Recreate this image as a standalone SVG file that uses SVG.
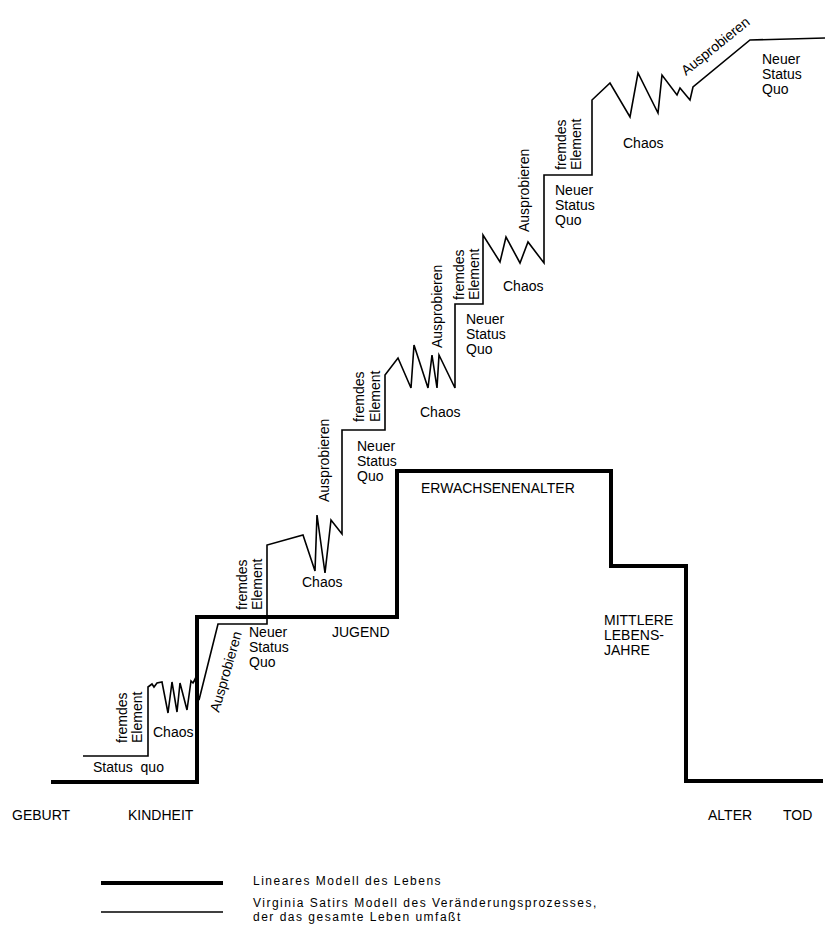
<svg xmlns="http://www.w3.org/2000/svg" width="825" height="929" viewBox="0 0 825 929">
<style>
text{font-family:"Liberation Sans",Arial,sans-serif;font-size:14px;fill:#000}
.thick{fill:none;stroke:#000;stroke-width:4;stroke-linejoin:miter}
.thin{fill:none;stroke:#000;stroke-width:1.6;stroke-linejoin:miter}
.leg{font-size:12px;letter-spacing:1.5px}
</style>
<rect width="825" height="929" fill="#fff"/>
<g id="connectors">
<path id="linear-model" class="thick" d="M51,782 H197 V617 H397 V471 H611 V566 H686 V781 H823"/>
<path id="satir-model" class="thin" d="M83,756 H148 V687 L152,684 L154,687 L157,683 L162,682 L168,713 L172,682 L177,712 L180,683 L187,710 L191,681 L193,683 L195,679 L199,700 L218,624 H267 V545 L303,535 L315,571 L317,515 L325,573 L331,520 L342,534 V430 H385 V375 L398,358 L411,388 L414,345 L428,388 L432,355 L437,388 L439,355 L455,388 V304 H483 V235 L500,262 L506,237 L520,263 L528,242 L544,263 V175 H592 V100 L610,83 L630,117 L638,73 L658,113 L662,75 L677,95 L680,88 L690,100 L693,87 L750,40 L825,38"/>
</g>
<g id="stage1">
<text x="93" y="772" word-spacing="4">Status quo</text>
<text transform="translate(127,743) rotate(-90)">fremdes</text>
<text transform="translate(142,743) rotate(-90)">Element</text>
<text x="153" y="737">Chaos</text>
<text transform="translate(219,713) rotate(-74)">Ausprobieren</text>
</g>
<g id="stage2">
<text x="249" y="637">Neuer</text>
<text x="249" y="652">Status</text>
<text x="249" y="667">Quo</text>
<text transform="translate(247,610) rotate(-90)">fremdes</text>
<text transform="translate(262,610) rotate(-90)">Element</text>
<text x="302" y="587">Chaos</text>
<text transform="translate(329,502) rotate(-90)">Ausprobieren</text>
</g>
<g id="stage3">
<text x="357" y="451">Neuer</text>
<text x="357" y="466">Status</text>
<text x="357" y="481">Quo</text>
<text transform="translate(364,422) rotate(-90)">fremdes</text>
<text transform="translate(380,422) rotate(-90)">Element</text>
<text x="420" y="417">Chaos</text>
<text transform="translate(442,348) rotate(-90)">Ausprobieren</text>
</g>
<g id="stage4">
<text x="466" y="324">Neuer</text>
<text x="466" y="339">Status</text>
<text x="466" y="354">Quo</text>
<text transform="translate(464,300) rotate(-90)">fremdes</text>
<text transform="translate(479,300) rotate(-90)">Element</text>
<text x="503" y="291">Chaos</text>
<text transform="translate(529,232) rotate(-90)">Ausprobieren</text>
</g>
<g id="stage5">
<text x="555" y="195">Neuer</text>
<text x="555" y="210">Status</text>
<text x="555" y="225">Quo</text>
<text transform="translate(566,170) rotate(-90)">fremdes</text>
<text transform="translate(581,170) rotate(-90)">Element</text>
<text x="623" y="148">Chaos</text>
<text transform="translate(686,76) rotate(-39)">Ausprobieren</text>
</g>
<g id="stage6">
<text x="762" y="64">Neuer</text>
<text x="762" y="79">Status</text>
<text x="762" y="94">Quo</text>
</g>
<g id="life-phases">
<text x="332" y="637">JUGEND</text>
<text x="421" y="493">ERWACHSENENALTER</text>
<text x="604" y="625">MITTLERE</text>
<text x="604" y="640">LEBENS-</text>
<text x="604" y="655">JAHRE</text>
<text x="12" y="820">GEBURT</text>
<text x="128" y="820">KINDHEIT</text>
<text x="708" y="820">ALTER</text>
<text x="783" y="820">TOD</text>
</g>
<g id="legend">
<path class="thick" d="M101,883 H223"/>
<path class="thin" d="M101,912 H223"/>
<text class="leg" x="253" y="885">Lineares Modell des Lebens</text>
<text class="leg" x="253" y="907">Virginia Satirs Modell des Veränderungsprozesses,</text>
<text class="leg" x="253" y="921">der das gesamte Leben umfaßt</text>
</g>
</svg>
